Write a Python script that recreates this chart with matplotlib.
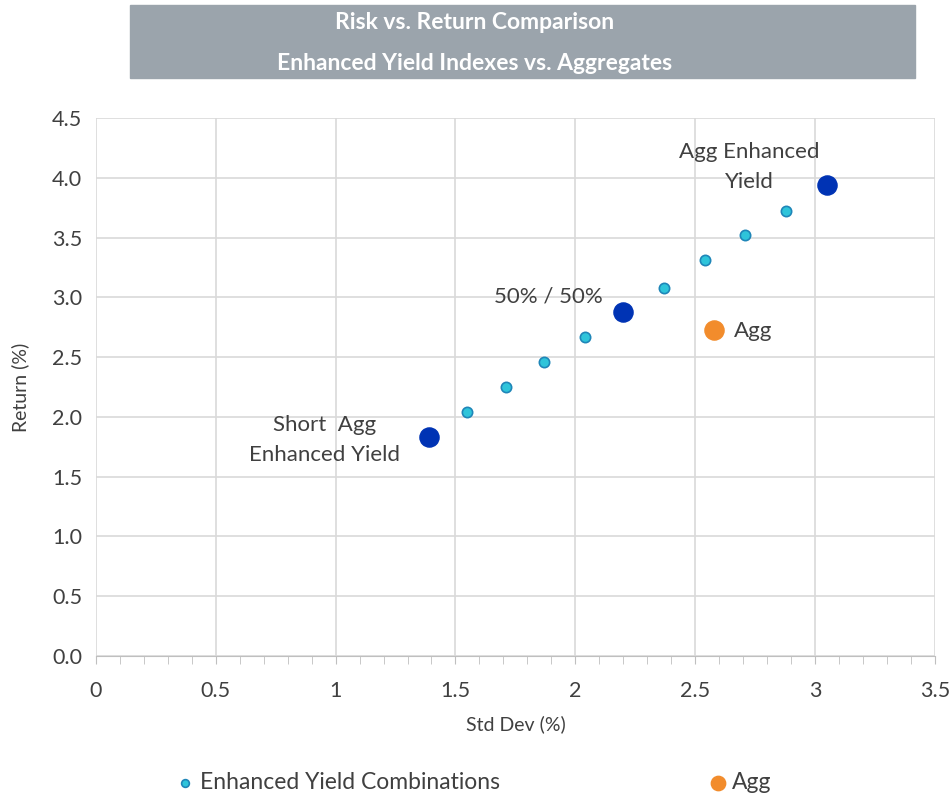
import numpy as np
import matplotlib.pyplot as plt
from matplotlib.patches import Rectangle
from matplotlib.ticker import MultipleLocator

plt.rcParams['font.family'] = ['Lato', 'DejaVu Sans']

# enhanced yield combinations (std dev, return)
combo_sd = [1.55, 1.71, 1.87, 2.04, 2.37, 2.54, 2.71, 2.88]
combo_ret = [2.04, 2.25, 2.46, 2.67, 3.08, 3.31, 3.52, 3.72]

# key portfolios
key_names = ['Short  Agg\nEnhanced Yield', '50% / 50%', 'Agg Enhanced\nYield']
key_sd = [1.39, 2.20, 3.05]
key_ret = [1.83, 2.88, 3.94]

agg_sd = [2.58]
agg_ret = [2.73]

x_ticks = [0, 0.5, 1, 1.5, 2, 2.5, 3, 3.5]
y_ticks = [0.0, 0.5, 1.0, 1.5, 2.0, 2.5, 3.0, 3.5, 4.0, 4.5]

txt = '#404040'
fig = plt.figure(figsize=(9.5, 7.98), dpi=100)
ax = fig.add_axes([0.101, 0.178, 0.883, 0.674])

ax.scatter(combo_sd, combo_ret, s=55, color='#2EC4DA', edgecolor='#1F86B8', linewidth=1.2,
           zorder=3, label='Enhanced Yield Combinations')
ax.scatter(key_sd, key_ret, s=190, color='#0033B4', zorder=3)
ax.scatter(agg_sd, agg_ret, s=190, color='#F28C2C', zorder=3, label='Agg')

offsets = [(-75, -2), (-15, 11), (-56, 13)]
aligns = ['center', 'right', 'center']
for n, x, y, off, ha in zip(key_names, key_sd, key_ret, offsets, aligns):
    ax.annotate(n, (x, y), xytext=off, textcoords='offset points', ha=ha, va='center',
                fontsize=16, color=txt, multialignment='center', linespacing=1.6)
ax.annotate('Agg', (agg_sd[0], agg_ret[0]), xytext=(14, -1), textcoords='offset points',
            ha='left', va='center', fontsize=16, color=txt)

ax.set_xlim(0, 3.5)
ax.set_ylim(0, 4.5)
ax.set_xticks(x_ticks)
ax.set_xticklabels([f'{v:g}' for v in x_ticks])
ax.xaxis.set_minor_locator(MultipleLocator(0.1))
ax.set_yticks(y_ticks)
ax.set_yticklabels([f'{v:.1f}' for v in y_ticks])
ax.grid(True, which='major', color='#D9D9D9', linewidth=1.2)
ax.set_axisbelow(True)
for s in ['top', 'right', 'left']:
    ax.spines[s].set_visible(False)
ax.spines['bottom'].set_color('#BFBFBF')
ax.tick_params(axis='x', which='major', length=6, color='#BFBFBF', labelsize=15.5,
               labelcolor=txt, pad=12)
ax.tick_params(axis='x', which='minor', length=6, color='#BFBFBF')
ax.tick_params(axis='y', length=0, labelsize=15.5, labelcolor=txt, pad=10)
ax.set_xlabel('Std Dev (%)', fontsize=14, color=txt, labelpad=10)
ax.set_ylabel('Return (%)', fontsize=14, color=txt, labelpad=16)

fig.legend(loc='center', bbox_to_anchor=(0.5, 0.02), ncol=2, frameon=False, fontsize=16.5,
           labelcolor=txt, columnspacing=9.2, handlelength=0.6, handletextpad=0.35,
           markerscale=0.75)

# title banner
fig.patches.append(Rectangle((0.137, 0.902), 0.826, 0.092, transform=fig.transFigure,
                             color='#9BA4AC', zorder=0))
fig.text(0.5, 0.972, 'Risk vs. Return Comparison', ha='center', va='center',
         fontsize=16.5, fontweight='bold', color='white')
fig.text(0.5, 0.921, 'Enhanced Yield Indexes vs. Aggregates', ha='center', va='center',
         fontsize=16.5, fontweight='bold', color='white')

plt.savefig('out.png')
